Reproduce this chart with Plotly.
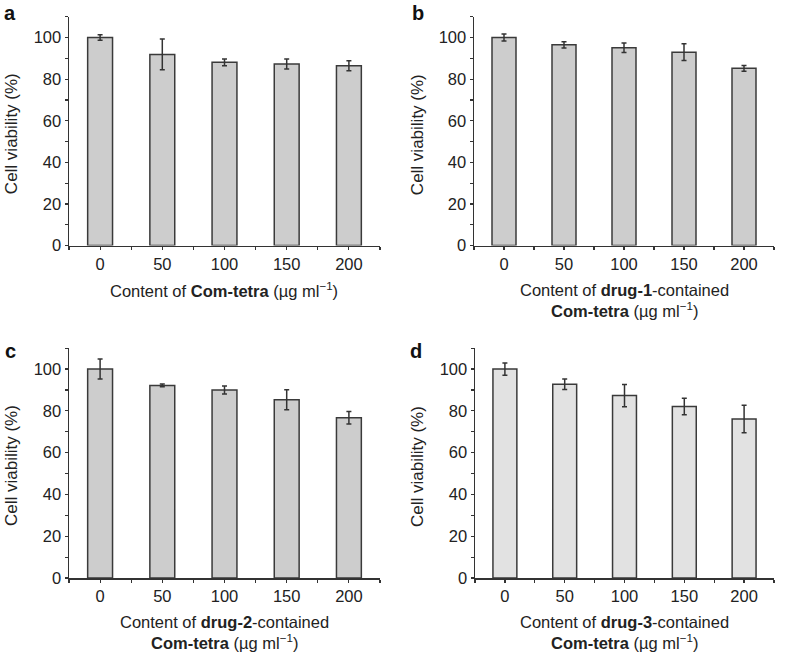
import plotly.graph_objects as go

categories = ["0", "50", "100", "150", "200"]

viab_a = [100.0, 91.9, 88.1, 87.3, 86.5]
err_a = [1.3, 7.4, 1.6, 2.4, 2.4]

viab_b = [100.0, 96.5, 95.1, 93.0, 85.2]
err_b = [1.7, 1.5, 2.3, 4.0, 1.4]

viab_c = [100.0, 92.2, 90.0, 85.3, 76.7]
err_c = [4.8, 0.7, 1.9, 4.8, 3.0]

viab_d = [100.0, 92.7, 87.3, 82.1, 76.1]
err_d = [2.9, 2.5, 5.3, 4.0, 6.6]

y_tickvals = [0, 20, 40, 60, 80, 100]
y_ticktext = ["0", "20", "40", "60", "80", "100"]

W, H = 788, 661
FONT = "Liberation Sans, Arial, Helvetica, sans-serif"
AX = "#333333"
TXT = "#222222"
FS = 16.5

panels = [
    dict(v=viab_a, e=err_a, fill="#cdcdcd", dom_x=(69, 380), dom_y=(17, 249), letter="a", lpos=(10, 0),
         ytx=11, xt=["Content of <b>Com-tetra</b> (µg ml<sup>−1</sup>)"]),
    dict(v=viab_b, e=err_b, fill="#cdcdcd", dom_x=(474, 774), dom_y=(17, 249), letter="b", lpos=(418, 0),
         ytx=417, xt=["Content of <b>drug-1</b>-contained", "<b>Com-tetra</b> (µg ml<sup>−1</sup>)"]),
    dict(v=viab_c, e=err_c, fill="#cdcdcd", dom_x=(69, 380), dom_y=(353, 586), letter="c", lpos=(10, 343),
         ytx=11, xt=["Content of <b>drug-2</b>-contained", "<b>Com-tetra</b> (µg ml<sup>−1</sup>)"]),
    dict(v=viab_d, e=err_d, fill="#e2e2e2", dom_x=(475, 774), dom_y=(353, 586), letter="d", lpos=(416, 343),
         ytx=417, xt=["Content of <b>drug-3</b>-contained", "<b>Com-tetra</b> (µg ml<sup>−1</sup>)"]),
]

fig = go.Figure()
annotations = []
xs = list(range(len(categories)))

for k, p in enumerate(panels):
    n = "" if k == 0 else str(k + 1)
    fig.add_trace(go.Bar(
        x=xs, y=p["v"], width=0.4,
        marker=dict(color=p["fill"], line=dict(color="#3a3a3a", width=1.5)),
        error_y=dict(type="data", array=p["e"], visible=True, color="#333333", thickness=1.5, width=2.5),
        xaxis="x" + n, yaxis="y" + n, showlegend=False, hoverinfo="skip",
    ))
    x0, x1 = p["dom_x"]
    y0, y1 = p["dom_y"]
    fig.update_layout(**{
        "xaxis" + n: dict(domain=[x0 / W, x1 / W], anchor="y" + n, range=[-0.5, 4.5],
                          tickmode="array", tickvals=xs, ticktext=categories,
                          ticks="outside", ticklen=3, tickwidth=1.2, tickcolor=AX,
                          minor=dict(tickmode="linear", tick0=0.5, dtick=1, ticks="outside",
                                     ticklen=3, tickwidth=1.2, tickcolor=AX, showgrid=False),
                          showline=True, linecolor=AX, linewidth=1.5, showgrid=False, zeroline=False,
                          tickfont=dict(family=FONT, size=FS, color=TXT), fixedrange=True),
        "yaxis" + n: dict(domain=[1 - y1 / H, 1 - y0 / H], anchor="x" + n, range=[0, 110],
                          tickmode="array", tickvals=y_tickvals, ticktext=y_ticktext,
                          ticks="outside", ticklen=3, tickwidth=1.2, tickcolor=AX,
                          minor=dict(tickmode="linear", tick0=10, dtick=20, ticks="outside",
                                     ticklen=3, tickwidth=1.2, tickcolor=AX, showgrid=False),
                          showline=True, linecolor=AX, linewidth=1.5, showgrid=False, zeroline=False,
                          tickfont=dict(family=FONT, size=FS, color=TXT), fixedrange=True),
    })
    annotations.append(dict(text="<b>%s</b>" % p["letter"], x=p["lpos"][0] / W, y=1 - p["lpos"][1] / H,
                            xref="paper", yref="paper", showarrow=False, xanchor="center", yanchor="top",
                            font=dict(family=FONT, size=20, color="#111111")))
    annotations.append(dict(text="Cell viability (%)", x=p["ytx"] / W, y=1 - ((y0 + y1) / 2 + 3) / H,
                            xref="paper", yref="paper", showarrow=False, textangle=-90,
                            xanchor="center", yanchor="middle",
                            font=dict(family=FONT, size=17, color=TXT)))
    xc = (x0 + x1) / 2
    for j, line in enumerate(p["xt"]):
        annotations.append(dict(text=line, x=xc / W, y=1 - (y1 + 45 + 20 * j) / H,
                                xref="paper", yref="paper", showarrow=False,
                                xanchor="center", yanchor="middle",
                                font=dict(family=FONT, size=FS, color=TXT)))

fig.update_layout(width=W, height=H, margin=dict(l=0, r=0, t=0, b=0),
                  paper_bgcolor="white", plot_bgcolor="white", annotations=annotations,
                  hovermode=False)
fig.write_html("out.html", config={"displayModeBar": False, "staticPlot": True},
               post_script="document.body.style.margin='0';document.body.style.overflow='hidden';")
